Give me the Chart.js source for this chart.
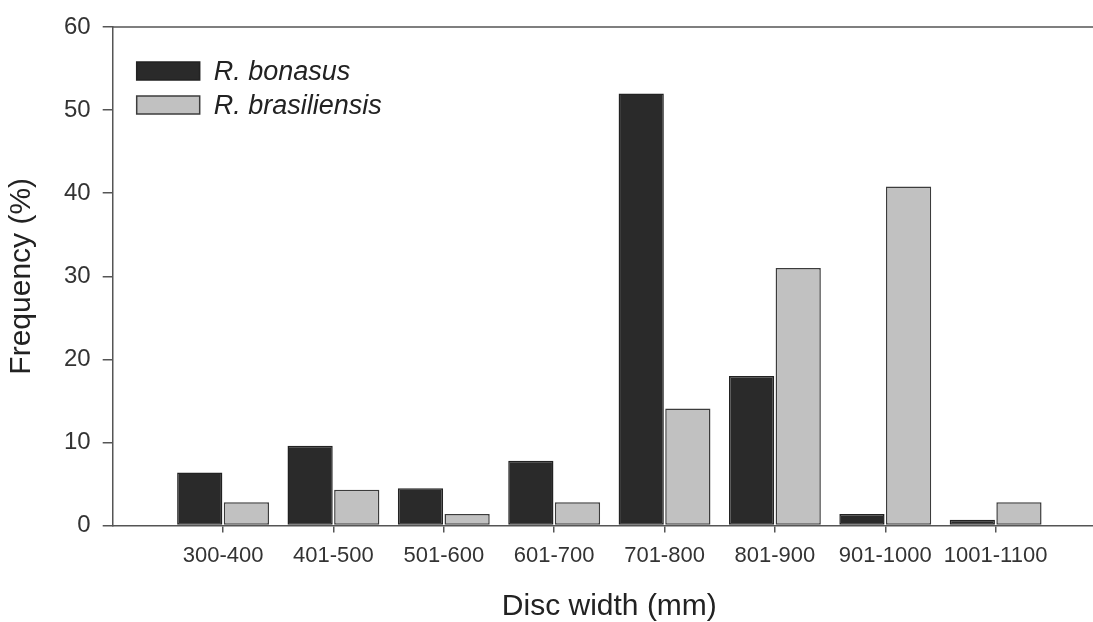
<!DOCTYPE html>
<html><head><meta charset="utf-8">
<script src="https://cdn.jsdelivr.net/npm/chart.js@4.4.0/dist/chart.umd.min.js"></script>
<style>html,body{margin:0;padding:0;overflow:hidden;background:#fff;width:1093px;height:622px}canvas{display:block}</style>
</head><body>
<canvas id="c" width="1106" height="622"></canvas>
<script>
const categories = ['300-400','401-500','501-600','601-700','701-800','801-900','901-1000','1001-1100'];
const seriesNames = ['R. bonasus','R. brasiliensis'];
const bonasus = [6.4, 9.6, 4.5, 7.8, 52.0, 18.0, 1.4, 0.7];
const brasiliensis = [2.8, 4.3, 1.4, 2.8, 14.1, 31.0, 40.8, 2.8];
const yTicks = [0, 10, 20, 30, 40, 50, 60];

const FONT = "'Liberation Sans', Arial, sans-serif";
const AXIS = '#555';

const framePlugin = {
  id: 'frame',
  afterDraw(chart) {
    const {ctx, chartArea: a} = chart;
    ctx.save();
    ctx.strokeStyle = AXIS;
    ctx.lineWidth = 1.5;
    ctx.beginPath();
    ctx.moveTo(a.left, a.top);
    ctx.lineTo(a.right, a.top);
    ctx.stroke();
    // legend
    const x0 = a.left + 24, y0 = a.top + 44;
    chart.data.datasets.forEach((ds, i) => {
      const yc = y0 + i * 34;
      ctx.fillStyle = ds.backgroundColor;
      ctx.fillRect(x0, yc - 9, 63, 18);
      ctx.strokeStyle = ds.borderColor;
      ctx.lineWidth = 1.5;
      ctx.strokeRect(x0, yc - 9, 63, 18);
      ctx.fillStyle = '#222';
      ctx.font = "italic 27px " + FONT;
      ctx.textBaseline = 'middle';
      ctx.textAlign = 'left';
      ctx.fillText(ds.label, x0 + 77, yc + 1);
    });
    ctx.restore();
  }
};

new Chart(document.getElementById('c'), {
  type: 'bar',
  data: {
    datasets: [
      { label: seriesNames[0], data: bonasus.map((v, i) => ({x: i, y: v})),
        backgroundColor: '#2a2a2a', borderColor: '#222222', borderWidth: 1.5, borderSkipped: false },
      { label: seriesNames[1], data: brasiliensis.map((v, i) => ({x: i, y: v})),
        backgroundColor: '#c1c1c1', borderColor: '#3c3c3c', borderWidth: 1.5, borderSkipped: false }
    ]
  },
  options: {
    responsive: false,
    animation: false,
    categoryPercentage: 0.845,
    barPercentage: 0.97,
    layout: { padding: { left: 4, right: 0, top: 27, bottom: -3 } },
    plugins: { legend: { display: false }, tooltip: { enabled: false } },
    scales: {
      x: {
        type: 'linear', min: -1, max: 8, offset: false,
        afterBuildTicks: s => { s.ticks = categories.map((c, i) => ({value: i})); },
        ticks: { callback: v => categories[v] ?? '', color: '#333', font: { family: FONT, size: 22 }, padding: 10, maxRotation: 0, autoSkip: false },
        grid: { display: true, drawOnChartArea: false, drawTicks: true, tickLength: 7, color: AXIS, lineWidth: 1.5, offset: false },
        border: { display: true, color: AXIS, width: 1.5 },
        title: { display: true, text: 'Disc width (mm)', color: '#222', font: { family: FONT, size: 30 }, padding: { top: 10, bottom: 0 } }
      },
      y: {
        min: 0, max: 60,
        afterBuildTicks: s => { s.ticks = yTicks.map(v => ({value: v})); },
        ticks: { color: '#333', font: { family: FONT, size: 24 }, padding: 12 },
        grid: { display: true, drawOnChartArea: false, drawTicks: true, tickLength: 10, color: AXIS, lineWidth: 1.5 },
        border: { display: true, color: AXIS, width: 1.5 },
        title: { display: true, text: 'Frequency (%)', color: '#222', font: { family: FONT, size: 30 }, padding: { top: 0, bottom: 12 } }
      }
    }
  },
  plugins: [framePlugin]
});
</script>
</body></html>
